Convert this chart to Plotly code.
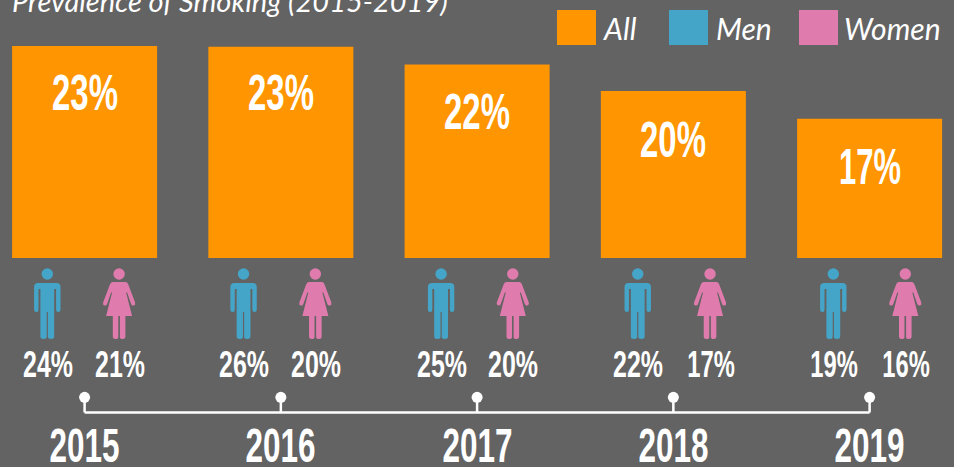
import plotly.graph_objects as go

# ---- data ----
years = ["2015", "2016", "2017", "2018", "2019"]
all_values = [23.0, 22.9, 21.0, 18.1, 15.1]
all_labels = ["23%", "23%", "22%", "20%", "17%"]
men_labels = ["24%", "26%", "25%", "22%", "19%"]
women_labels = ["21%", "20%", "20%", "17%", "16%"]
legend_names = ["All", "Men", "Women"]
title_text = "Prevalence of Smoking (2015-2019)"

# ---- style ----
W, H = 954, 467
BG = "#636363"
ORANGE = "#FF9500"
BLUE = "#45A5C9"
PINK = "#E07BAD"
WHITE = "#FFFFFF"
CONDENSED = "Liberation Sans, sans-serif"
LATO = "Lato, sans-serif"

STEP = 196.25          # px between categories
C0 = 84.6              # px of the first category
PX_PER_UNIT = 9.22
BASE_PX = 258          # px of y = 0


def yv(py):
    """Pixel row -> y-axis value"""
    return (BASE_PX - py) / PX_PER_UNIT


def pap_x(px):
    return px / W


def pap_y(py):
    return 1 - py / H


fig = go.Figure()
fig.add_bar(x=years, y=all_values, marker=dict(color=ORANGE, line_width=0),
            hoverinfo="skip", showlegend=False)

# timeline
fig.add_scatter(x=years, y=[yv(397.3)] * 5, mode="markers",
                marker=dict(color=WHITE, size=11), hoverinfo="skip", showlegend=False)
for y in years:
    fig.add_scatter(x=[y, y], y=[yv(397.3), yv(412.5)], mode="lines",
                    line=dict(color=WHITE, width=2.5), hoverinfo="skip", showlegend=False)
fig.add_scatter(x=[years[0], years[-1]], y=[yv(412.5), yv(412.5)], mode="lines",
                line=dict(color=WHITE, width=2.5), hoverinfo="skip", showlegend=False)

# pictograms: pixel-sized paths anchored on the category, offsets relative to the anchor
MAN = ("M -13.2,52 Q -13.2,56 -9,56 L 9,56 Q 13.2,56 13.2,52 L 13.2,29.5 "
       "Q 13.2,27 10.8,27 Q 8.8,27 8.8,29.5 L 8.8,50 L 6.9,50 L 6.9,2.5 "
       "Q 6.9,0 3.6,0 Q 0.6,0 0.6,2.5 L 0.6,27 L -0.6,27 L -0.6,2.5 Q -0.6,0 -3.6,0 "
       "Q -6.9,0 -6.9,2.5 L -6.9,50 L -8.8,50 L -8.8,29.5 Q -8.8,27 -10.8,27 "
       "Q -13.2,27 -13.2,29.5 Z")
WOMAN = ("M -6.5,57 L 6.5,57 Q 8,57 9,55 L 16,36.5 Q 16.5,34 14.5,33.5 Q 12.8,33 12,35 "
         "L 8,46.5 L 7,46.5 L 13,23 L 6.3,23 L 6.3,2 Q 6.3,0 3.6,0 Q 0.8,0 0.8,2 L 0.8,23 "
         "L -0.8,23 L -0.8,2 Q -0.8,0 -3.6,0 Q -6.3,0 -6.3,2 L -6.3,23 L -13,23 L -7,46.5 "
         "L -8,46.5 L -12,35 Q -12.8,33 -14.5,33.5 Q -16.5,34 -16,36.5 L -9,55 Q -8,57 -6.5,57 Z")
MAN_DX = [-37.3, -37.3, -36, -35.6, -36.3]
WOMAN_DX = [34.5, 34.5, 35.7, 36.7, 35.7]
FOOT_PX = 339
HEAD_PX = 274
shapes = []


def icon(path, cat_index, dx, color):
    x_anchor = cat_index + dx / STEP
    shapes.append(dict(type="path", xref="x", yref="y", xsizemode="pixel", ysizemode="pixel",
                       xanchor=x_anchor, yanchor=yv(FOOT_PX), path=path,
                       fillcolor=color, line_width=0))
    shapes.append(dict(type="circle", xref="x", yref="y", xsizemode="pixel", ysizemode="pixel",
                       xanchor=x_anchor, yanchor=yv(HEAD_PX), x0=-5.7, x1=5.7, y0=-5.7, y1=5.7,
                       fillcolor=color, line_width=0))


for i in range(len(years)):
    icon(MAN, i, MAN_DX[i], BLUE)
    icon(WOMAN, i, WOMAN_DX[i], PINK)

# legend squares
for x0, col in zip([557, 669, 799], [ORANGE, BLUE, PINK]):
    shapes.append(dict(type="rect", xref="paper", yref="paper",
                       x0=pap_x(x0), x1=pap_x(x0 + 39), y0=pap_y(45), y1=pap_y(10),
                       fillcolor=col, line_width=0))

ann = []


def text(s, xref_val, py, size, font=CONDENSED, xshift=0, xanchor="center", xref="x", style="normal", bold=True):
    ann.append(dict(text=f"<b>{s}</b>" if bold else s, x=xref_val, y=yv(py), xref=xref, yref="y", xshift=xshift,
                    xanchor=xanchor, yanchor="middle", showarrow=False,
                    font=dict(family=font, size=size, color=WHITE, style=style)))


LABEL_PX = [93, 93, 111.5, 139.5, 166.5]
for i, y in enumerate(years):
    text(all_labels[i], i, LABEL_PX[i], 50)
    text(men_labels[i], i, 364, 36, xshift=MAN_DX[i] + 0.5)
    text(women_labels[i], i, 364, 36, xshift=WOMAN_DX[i] + 0.5)
    text(y, i, 445.5, 48)

for name, px in zip(legend_names, [601, 714, 842]):
    text(name, pap_x(px), 28, 30, font=LATO, xanchor="left", xref="paper", style="italic", bold=False)
text(title_text, pap_x(10), 0, 29, font=LATO, xanchor="left", xref="paper", style="italic", bold=False)

fig.update_layout(
    width=W, height=H, autosize=False,
    margin=dict(l=0, r=0, t=0, b=0, pad=0),
    paper_bgcolor=BG, plot_bgcolor=BG,
    bargap=1 - 145 / STEP,
    shapes=shapes, annotations=ann, showlegend=False,
    xaxis=dict(type="category", range=[-C0 / STEP, (W - C0) / STEP], visible=False, fixedrange=True),
    yaxis=dict(range=[yv(H), yv(0)], visible=False, fixedrange=True),
)

# The reference face is condensed and no condensed family is installed: narrow the glyphs.
SQUEEZE = """
document.body.style.margin='0';document.body.style.overflow='hidden';
document.querySelectorAll('.annotation-text').forEach(function(t){
  var s=t.textContent, fs=parseFloat(t.style.fontSize), len=0, one=s.charAt(0)==='1';
  if(/^\\d+%$/.test(s)) len = fs>40 ? (one?62:66) : (one?47.5:50);
  else if(/^\\d{4}$/.test(s)) len = 70;
  if(len){t.setAttribute('textLength',len);t.setAttribute('lengthAdjust','spacingAndGlyphs');}
});
"""
fig.write_html("out.html", config=dict(displayModeBar=False), post_script=SQUEEZE)
